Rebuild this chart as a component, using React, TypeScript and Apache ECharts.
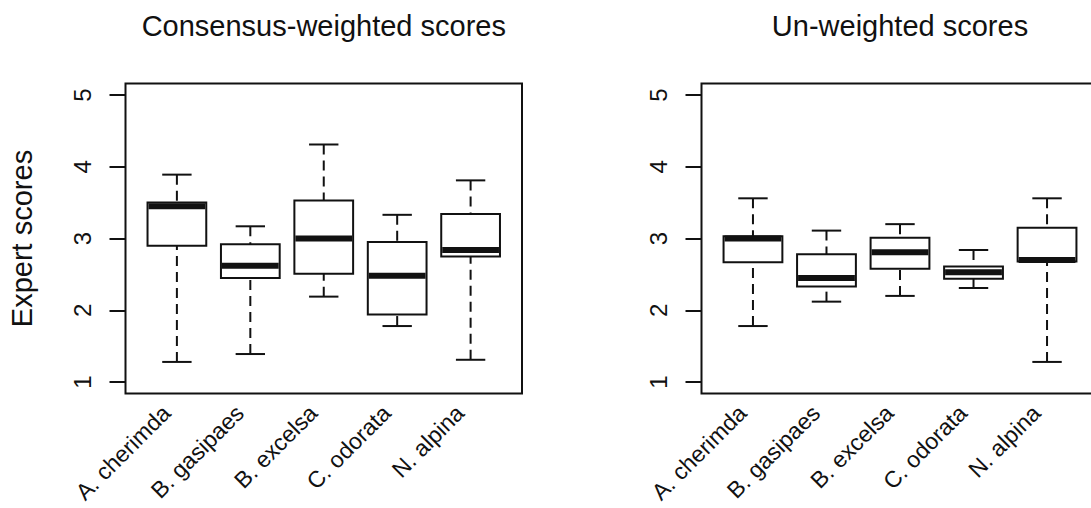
import React, { useEffect, useRef } from "react";
import * as echarts from "echarts";

const categories = ["A. cherimda", "B. gasipaes", "B. excelsa", "C. odorata", "N. alpina"];
const positions = [1, 2, 3, 4, 5];
const yTicks = [1, 2, 3, 4, 5];

const weightedMin = [1.28, 1.39, 2.19, 1.78, 1.31];
const weightedQ1 = [2.9, 2.45, 2.51, 1.94, 2.75];
const weightedMedian = [3.45, 2.62, 3.0, 2.48, 2.84];
const weightedQ3 = [3.5, 2.92, 3.53, 2.95, 3.34];
const weightedMax = [3.89, 3.17, 4.31, 3.33, 3.81];

const unweightedMin = [1.78, 2.12, 2.2, 2.31, 1.28];
const unweightedQ1 = [2.67, 2.33, 2.58, 2.44, 2.68];
const unweightedMedian = [3.0, 2.45, 2.81, 2.53, 2.7];
const unweightedQ3 = [3.03, 2.78, 3.01, 2.61, 3.15];
const unweightedMax = [3.56, 3.11, 3.2, 2.84, 3.56];

const FONT = "'Liberation Sans', Arial, sans-serif";
const INK = "#111";

function rows(mn: number[], q1: number[], md: number[], q3: number[], mx: number[]) {
  return positions.map((p, i) => [p, mn[i], q1[i], md[i], q3[i], mx[i]]);
}

const renderBox = (params: any, api: any) => {
  const x = api.value(0);
  const pMin = api.coord([x, api.value(1)]);
  const pQ1 = api.coord([x, api.value(2)]);
  const pMed = api.coord([x, api.value(3)]);
  const pQ3 = api.coord([x, api.value(4)]);
  const pMax = api.coord([x, api.value(5)]);
  const hw = api.size([0.4, 0])[0];
  const cw = api.size([0.2, 0])[0];
  const cx = pMed[0];
  const lw = 2;
  const dash = [10, 6];
  return {
    type: "group",
    children: [
      { type: "line", shape: { x1: cx, y1: pMax[1], x2: cx, y2: pQ3[1] }, style: { stroke: INK, lineWidth: lw, lineDash: dash } },
      { type: "line", shape: { x1: cx, y1: pMin[1], x2: cx, y2: pQ1[1] }, style: { stroke: INK, lineWidth: lw, lineDash: dash } },
      { type: "line", shape: { x1: cx - cw, y1: pMax[1], x2: cx + cw, y2: pMax[1] }, style: { stroke: INK, lineWidth: lw } },
      { type: "line", shape: { x1: cx - cw, y1: pMin[1], x2: cx + cw, y2: pMin[1] }, style: { stroke: INK, lineWidth: lw } },
      { type: "rect", shape: { x: cx - hw, y: pQ3[1], width: hw * 2, height: pQ1[1] - pQ3[1] }, style: { fill: "#fff", stroke: INK, lineWidth: lw } },
      { type: "line", shape: { x1: cx - hw + 1, y1: pMed[1], x2: cx + hw - 1, y2: pMed[1] }, style: { stroke: INK, lineWidth: 6 } },
    ],
  };
};

function xAxisFor(gridIndex: number) {
  return {
    type: "value",
    gridIndex,
    min: 0.3,
    max: 5.7,
    axisLine: { show: false },
    axisTick: { show: false },
    splitLine: { show: false },
    axisLabel: {
      customValues: positions,
      formatter: (v: number) => categories[Math.round(v) - 1],
      rotate: 45,
      margin: 5,
      padding: [0, 15, 0, 0],
      fontSize: 23,
      fontFamily: FONT,
      color: INK,
    },
  };
}

function yAxisFor(gridIndex: number, name: string) {
  return {
    type: "value",
    gridIndex,
    min: 0.84,
    max: 5.16,
    name,
    nameLocation: "middle",
    nameRotate: 90,
    nameGap: 89,
    nameTextStyle: { fontSize: 29, fontFamily: FONT, color: INK },
    axisLine: { show: false },
    splitLine: { show: false },
    axisTick: { show: true, customValues: yTicks, length: 16, inside: false, lineStyle: { color: INK, width: 2 } },
    axisLabel: { customValues: yTicks, rotate: 90, margin: 31, fontSize: 24, fontFamily: FONT, color: INK },
  };
}

export default function App() {
  const ref = useRef<HTMLDivElement>(null);
  useEffect(() => {
    if (!ref.current) return;
    const chart = echarts.init(ref.current, undefined, { renderer: "svg" });
    const gridBase = { top: 83.5, height: 310, show: true, borderColor: INK, borderWidth: 2, backgroundColor: "transparent", outerBoundsMode: "none", containLabel: false };
    chart.setOption({
      animation: false,
      backgroundColor: "#fff",
      title: [
        { text: "Consensus-weighted scores", left: 323.8, top: 11, padding: 0, textAlign: "center", textStyle: { fontSize: 29, fontWeight: "normal", fontFamily: FONT, color: INK } },
        { text: "Un-weighted scores", left: 900, top: 11, padding: 0, textAlign: "center", textStyle: { fontSize: 29, fontWeight: "normal", fontFamily: FONT, color: INK } },
      ],
      grid: [
        { ...gridBase, left: 125.5, width: 396.5 },
        { ...gridBase, left: 701.5, width: 397 },
      ],
      xAxis: [xAxisFor(0), xAxisFor(1)],
      yAxis: [yAxisFor(0, "Expert scores"), yAxisFor(1, "")],
      series: [
        {
          type: "custom",
          name: "Consensus-weighted",
          xAxisIndex: 0,
          yAxisIndex: 0,
          renderItem: renderBox,
          encode: { x: 0, y: [1, 2, 3, 4, 5] },
          data: rows(weightedMin, weightedQ1, weightedMedian, weightedQ3, weightedMax),
          clip: false,
        },
        {
          type: "custom",
          name: "Un-weighted",
          xAxisIndex: 1,
          yAxisIndex: 1,
          renderItem: renderBox,
          encode: { x: 0, y: [1, 2, 3, 4, 5] },
          data: rows(unweightedMin, unweightedQ1, unweightedMedian, unweightedQ3, unweightedMax),
          clip: false,
        },
      ],
    });
    return () => chart.dispose();
  }, []);
  return <div ref={ref} style={{ position: "fixed", left: 0, top: 0, width: 1091, height: 508 }} />;
}
